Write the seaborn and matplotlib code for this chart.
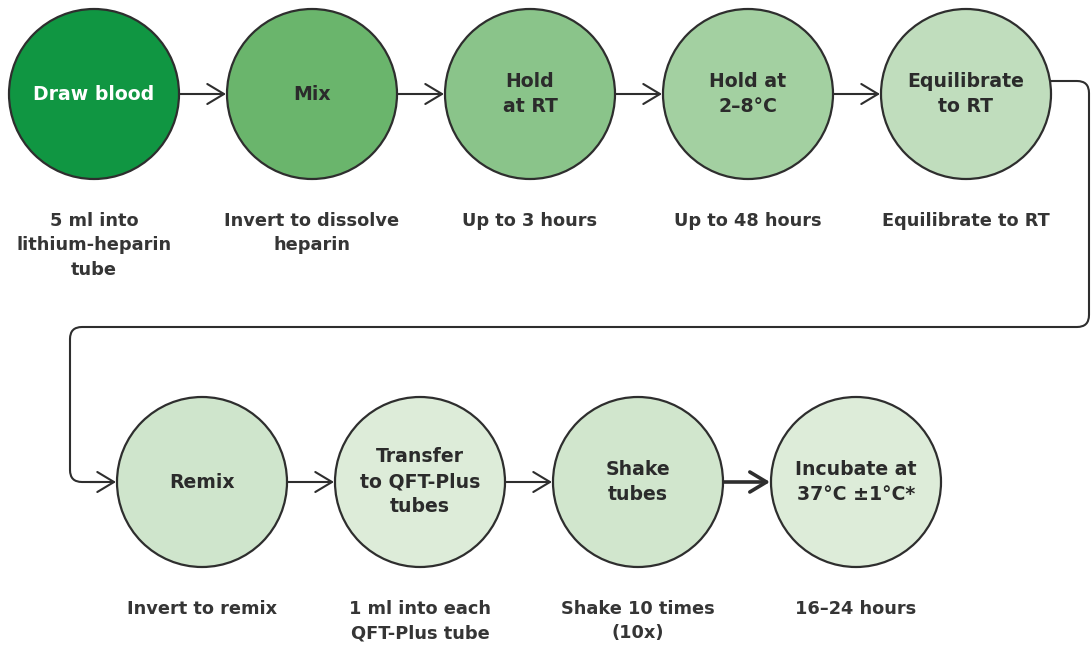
import matplotlib
matplotlib.use("Agg")
import matplotlib.pyplot as plt
from matplotlib.path import Path
from matplotlib.patches import PathPatch
import seaborn as sns
import pandas as pd

# Steps of the workflow (in order)
step_titles = [
    "Draw blood", "Mix", "Hold\nat RT", "Hold at\n2\u20138\u00b0C", "Equilibrate\nto RT",
    "Remix", "Transfer\nto QFT-Plus\ntubes", "Shake\ntubes", "Incubate at\n37\u00b0C \u00b11\u00b0C*",
]
step_notes = [
    "5 ml into\nlithium-heparin\ntube", "Invert to dissolve\nheparin", "Up to 3 hours",
    "Up to 48 hours", "Equilibrate to RT",
    "Invert to remix", "1 ml into each\nQFT-Plus tube", "Shake 10 times\n(10x)", "16\u201324 hours",
]
step_colors = [
    "#109642", "#6ab56c", "#8ac48a", "#a3d0a1", "#c0ddbd",
    "#cfe5cc", "#ddecd9", "#d1e6cd", "#ddecd9",
]
step_row = [0, 0, 0, 0, 0, 1, 1, 1, 1]
step_col = [0, 1, 2, 3, 4, 0, 1, 2, 3]

# layout (pixel-like coordinates)
W, H = 1091, 647
R = 85
X0 = [94, 202]
DX = 218
YC = [94, 482]
EDGE = "#2e2e2e"
TXT = "#2b2b2b"

df = pd.DataFrame({
    "step": [t.replace("\n", " ") for t in step_titles],
    "x": [X0[r] + c * DX for r, c in zip(step_row, step_col)],
    "y": [YC[r] for r in step_row],
})

sns.set_theme(style="white")
plt.rcParams["font.family"] = ["DejaVu Sans"]

fig = plt.figure(figsize=(W / 100, H / 100), dpi=100)
ax = fig.add_axes([0, 0, 1, 1])

diam_pt = 2 * R * 72 / 100
sns.scatterplot(data=df, x="x", y="y", hue="step", palette=step_colors,
                s=diam_pt ** 2, edgecolor=EDGE, linewidth=1.6, legend=False,
                ax=ax, zorder=3)

for i, row in df.iterrows():
    col = "white" if i == 0 else TXT
    ax.text(row.x, row.y, step_titles[i], ha="center", va="center",
            fontsize=13.6, fontweight="bold", color=col, linespacing=1.4, zorder=4)
    ax.text(row.x, row.y + 118, step_notes[i], ha="center", va="top",
            fontsize=12.8, fontweight="bold", color="#353535", linespacing=1.45)

# arrows between neighbours in the same row
for i in range(len(df) - 1):
    if step_row[i] != step_row[i + 1]:
        continue
    a, b = df.iloc[i], df.iloc[i + 1]
    lw = 2.6 if i == 7 else 1.5
    ax.annotate("", xy=(b.x - R - 1, b.y), xytext=(a.x + R + 1, a.y),
                arrowprops=dict(arrowstyle="->,head_length=0.6,head_width=0.36",
                                mutation_scale=20, color=EDGE, lw=lw,
                                shrinkA=0, shrinkB=0), zorder=2)

# connector from end of row 1 to start of row 2
e = df.iloc[4]
s = df.iloc[5]
rc = 12
xr, yl, xl = 1089, 327, 70
verts = [
    (e.x + R - 2, 81), (xr - rc, 81), (xr, 81), (xr, 81 + rc),
    (xr, yl - rc), (xr, yl), (xr - rc, yl),
    (xl + rc, yl), (xl, yl), (xl, yl + rc),
    (xl, s.y - rc), (xl, s.y), (xl + rc, s.y), (xl + 30, s.y),
]
codes = [Path.MOVETO, Path.LINETO, Path.CURVE3, Path.CURVE3,
         Path.LINETO, Path.CURVE3, Path.CURVE3,
         Path.LINETO, Path.CURVE3, Path.CURVE3,
         Path.LINETO, Path.CURVE3, Path.CURVE3, Path.LINETO]
ax.add_patch(PathPatch(Path(verts, codes), fill=False, edgecolor=EDGE, lw=1.5,
                       capstyle="round", zorder=2))
ax.annotate("", xy=(s.x - R - 1, s.y), xytext=(xl + 20, s.y),
            arrowprops=dict(arrowstyle="->,head_length=0.6,head_width=0.36",
                            mutation_scale=20, color=EDGE, lw=1.5,
                            shrinkA=0, shrinkB=0), zorder=2)

ax.set_xlim(0, W)
ax.set_ylim(H, 0)
ax.set_axis_off()

fig.savefig("out.png", dpi=100, facecolor="white")
